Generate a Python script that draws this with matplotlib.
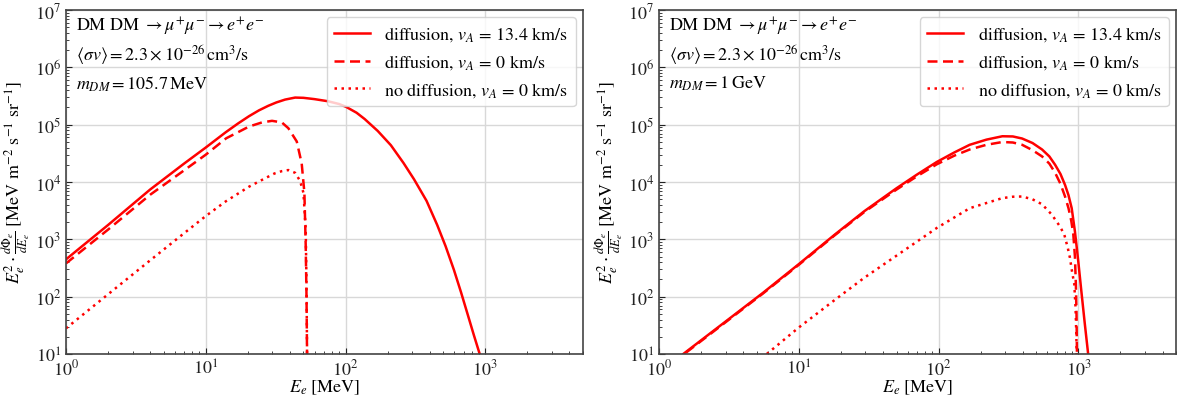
import matplotlib
matplotlib.use("Agg")
import matplotlib.pyplot as plt

plt.rcParams["font.family"] = ["STIXGeneral", "DejaVu Serif"]
plt.rcParams["mathtext.fontset"] = "stix"

# left panel, m_DM = 105.7 MeV
l_solid_E = [1, 2, 4, 7, 10, 13.9, 17, 20.4, 24, 28, 32, 37, 43.6, 50, 60, 75, 90, 101, 120, 137, 170, 211, 260, 309, 380, 453, 520, 596, 670, 741, 830, 912, 1000]
l_solid_y = [447, 1780, 7400, 2.1e4, 4.0e4, 7.4e4, 1.05e5, 1.41e5, 1.78e5, 2.14e5, 2.45e5, 2.75e5, 2.98e5, 2.95e5, 2.8e5, 2.57e5, 2.3e5, 2.05e5, 1.62e5, 1.26e5, 7.8e4, 4.4e4, 2.15e4, 1.12e4, 4.7e3, 1.78e3, 760, 295, 120, 53, 21, 10, 4]

l_dash_E = [1, 2, 4, 7, 10, 14, 20.4, 25.3, 29.8, 35, 39, 44.8, 48.6, 50.8, 51.9, 52.6, 53.2]
l_dash_y = [380, 1480, 6000, 1.6e4, 3.0e4, 5.8e4, 9.3e4, 1.1e5, 1.17e5, 1.1e5, 8.7e4, 5.1e4, 2.1e4, 6.5e3, 800, 100, 5]

l_dot_E = [1, 2, 4, 7, 10, 13.9, 20.4, 26.7, 31, 35, 39, 43.6, 47.3, 50, 51.9, 52.6, 53.2]
l_dot_y = [28, 110, 430, 1280, 2.55e3, 4.6e3, 8.3e3, 1.17e4, 1.41e4, 1.55e4, 1.62e4, 1.45e4, 1.05e4, 6.5e3, 1.55e3, 160, 5]

# right panel, m_DM = 1 GeV
r_solid_E = [1.3, 1.49, 3, 5.5, 10, 18, 29.4, 50, 70, 97, 130, 167, 220, 286, 340, 396, 470, 550, 620, 682, 745, 803, 850, 896, 944, 975, 1000, 1050, 1110, 1175, 1250]
r_solid_y = [7, 10, 37, 115, 370, 1.2e3, 3.1e3, 7.8e3, 1.35e4, 2.24e4, 3.3e4, 4.47e4, 5.5e4, 6.3e4, 6.25e4, 5.75e4, 4.8e4, 3.7e4, 2.8e4, 2.0e4, 1.38e4, 8.9e3, 5.9e3, 3.5e3, 1.4e3, 700, 400, 126, 35, 10, 3]

r_dash_E = [1.3, 1.49, 3, 5.5, 10, 18, 29.4, 50, 70, 97, 130, 167, 220, 286, 340, 396, 470, 550, 620, 682, 745, 803, 850, 890, 920, 945, 960, 970, 980]
r_dash_y = [6.8, 9.7, 36, 112, 360, 1.17e3, 3.0e3, 7.4e3, 1.26e4, 2.04e4, 2.9e4, 3.7e4, 4.47e4, 5.0e4, 4.9e4, 4.47e4, 3.6e4, 2.8e4, 2.1e4, 1.45e4, 9.3e3, 5.6e3, 3.5e3, 2.1e3, 1.23e3, 500, 160, 50, 5]

r_dot_E = [5.5, 5.9, 10, 18, 29.4, 50, 97, 167, 286, 340, 396, 470, 550, 646, 741, 794, 840, 870, 900, 935, 955, 968, 975]
r_dot_y = [8, 10, 29, 87, 214, 520, 1.58e3, 3.5e3, 5.25e3, 5.55e3, 5.6e3, 5.0e3, 4.1e3, 2.7e3, 1.66e3, 1.2e3, 710, 480, 280, 166, 63, 20, 5]

panels = [
    (l_solid_E, l_solid_y, l_dash_E, l_dash_y, l_dot_E, l_dot_y, r"$m_{DM} = 105.7\,\mathrm{MeV}$"),
    (r_solid_E, r_solid_y, r_dash_E, r_dash_y, r_dot_E, r_dot_y, r"$m_{DM} = 1\,\mathrm{GeV}$"),
]

labels = [r"diffusion, $v_A$ = 13.4 km/s",
          r"diffusion, $v_A$ = 0 km/s",
          r"no diffusion, $v_A$ = 0 km/s"]

fig = plt.figure(figsize=(11.84, 4.06), dpi=100)
ax_left = fig.add_axes([0.0557, 0.1256, 0.4367, 0.847])
ax_right = fig.add_axes([0.5566, 0.1256, 0.4367, 0.847])

for ax, (sE, sy, dE, dy, pE, py, mass) in zip([ax_left, ax_right], panels):
    ax.plot(sE, sy, color="red", lw=1.8, ls="-", label=labels[0])
    ax.plot(dE, dy, color="red", lw=1.8, ls=(0, (4, 2.2)), label=labels[1])
    ax.plot(pE, py, color="red", lw=1.8, ls=(0, (1, 1.8)), label=labels[2])
    ax.set_xscale("log")
    ax.set_yscale("log")
    ax.set_xlim(1, 5000)
    ax.set_ylim(10, 1e7)
    ax.grid(which="major", color="#d8d8d8", lw=1)
    ax.set_axisbelow(True)
    ax.tick_params(which="both", direction="in", labelsize=13, colors="#222222")
    ax.tick_params(which="major", length=4)
    ax.tick_params(which="minor", length=2)
    for sp in ax.spines.values():
        sp.set_color("#444444")
        sp.set_linewidth(1.2)
    ax.set_xlabel(r"$E_e$ [MeV]", fontsize=13, labelpad=-1)
    ax.set_ylabel(r"$E_e^2\cdot\frac{d\Phi_e}{dE_e}$ [MeV m$^{-2}$ s$^{-1}$ sr$^{-1}$]", fontsize=13, labelpad=1)
    ax.text(0.02, 0.956, r"DM DM $\rightarrow \mu^{+}\mu^{-} \rightarrow e^{+}e^{-}$", transform=ax.transAxes, fontsize=13, va="center")
    ax.text(0.02, 0.869, r"$\langle\sigma v\rangle = 2.3\times10^{-26}\,\mathrm{cm}^3/\mathrm{s}$", transform=ax.transAxes, fontsize=13, va="center")
    ax.text(0.02, 0.788, mass, transform=ax.transAxes, fontsize=13, va="center")
    ax.legend(loc="upper right", fontsize=13, framealpha=0.8, edgecolor="#cccccc", borderaxespad=0.4)

plt.savefig("out.png", dpi=100)
plt.close()
